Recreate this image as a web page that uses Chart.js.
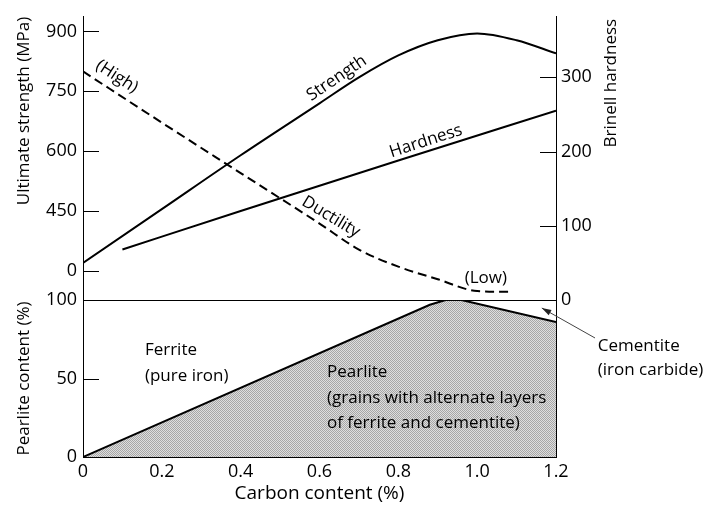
<!DOCTYPE html>
<html>
<head>
<meta charset="utf-8">
<script src="https://cdn.jsdelivr.net/npm/chart.js"></script>
<style>
body { margin: 0; background: #fff; }
#wrap { position: relative; width: 706px; height: 508px; }
#wrap canvas { position: absolute; left: 0; top: 0; }
</style>
</head>
<body>
<div id="wrap">
<canvas id="bottomChart" width="706" height="508"></canvas>
<canvas id="topChart" width="706" height="508"></canvas>
</div>
<script>
// Data
let xTicks = [0, 0.2, 0.4, 0.6, 0.8, 1.0, 1.2];
let xTickLabels = ["0", "0.2", "0.4", "0.6", "0.8", "1.0", "1.2"];

// strength axis is broken: "0" sits where 300 would be
let strengthTicks = [300, 450, 600, 750, 900];
let strengthTickLabels = ["0", "450", "600", "750", "900"];
let hardnessTicks = [0, 100, 200, 300];
let pearliteTicks = [0, 50, 100];

let strengthX = [0, 0.2, 0.4, 0.6, 0.7, 0.8, 0.9, 1.0, 1.1, 1.2];
let strengthY = [320, 455, 590, 720, 785, 840, 878, 895, 878, 845];

let hardnessX = [0.1, 0.4, 0.8, 1.2];
let hardnessY = [68, 120, 188, 255];

// ductility has no scale, drawn against the hardness axis
let ductilityX = [0, 0.2, 0.4, 0.6, 0.7, 0.8, 0.9, 1.0, 1.08];
let ductilityY = [308, 239, 171, 103, 68, 45, 28, 12, 11];

let pearliteX = [0, 0.88, 0.92, 0.96, 1.2];
let pearliteY = [0, 97, 100, 100, 86];

Chart.defaults.font.family = "'Open Sans', sans-serif";
Chart.defaults.color = "#000";

function pts(xs, ys) {
    return xs.map((x, i) => ({x: x, y: ys[i]}));
}

function setTicks(values) {
    return function(scale) {
        scale.ticks = values.map(v => ({value: v}));
    };
}

function drawText(ctx, text, x, y, angle, align) {
    ctx.save();
    ctx.translate(x, y);
    ctx.rotate(angle * Math.PI / 180);
    ctx.textAlign = align || "center";
    ctx.textBaseline = "middle";
    ctx.fillText(text, 0, 0);
    ctx.restore();
}

// tick marks point into the plot
const innerTicks = {
    id: "innerTicks",
    afterDraw(chart) {
        const ctx = chart.ctx;
        ctx.save();
        ctx.strokeStyle = "#000";
        ctx.lineWidth = 1;
        Object.values(chart.scales).forEach(s => {
            if (s.axis !== "y" || s.options.ticks.display === false) return;
            s.ticks.forEach((t, i) => {
                const y = Math.round(s.getPixelForTick(i)) + 0.5;
                const x0 = s.position === "left" ? s.right : s.left;
                const x1 = s.position === "left" ? x0 + 16 : x0 - 16;
                ctx.beginPath();
                ctx.moveTo(x0, y);
                ctx.lineTo(x1, y);
                ctx.stroke();
            });
        });
        ctx.restore();
    }
};

// stippled fill for the pearlite area
let pc = document.createElement("canvas");
pc.width = 2; pc.height = 2;
let pctx = pc.getContext("2d");
pctx.fillStyle = "#dedede"; pctx.fillRect(0, 0, 2, 2);
pctx.fillStyle = "#a6a6a6"; pctx.fillRect(0, 0, 1, 1); pctx.fillRect(1, 1, 1, 1);
let stipple = pctx.createPattern(pc, "repeat");

const topNotes = {
    id: "topNotes",
    afterDraw(chart) {
        const ctx = chart.ctx;
        const x = chart.scales.x, h = chart.scales.yH;
        ctx.save();
        ctx.fillStyle = "#000";
        ctx.font = "17px 'Open Sans'";
        drawText(ctx, "(High)", x.getPixelForValue(0.086), h.getPixelForValue(301), 33);
        drawText(ctx, "Strength", x.getPixelForValue(0.644), h.getPixelForValue(299), -34);
        drawText(ctx, "Hardness", x.getPixelForValue(0.87), h.getPixelForValue(214), -18);
        drawText(ctx, "Ductility", x.getPixelForValue(0.629), h.getPixelForValue(112), 31);
        drawText(ctx, "(Low)", x.getPixelForValue(1.022), h.getPixelForValue(29), 0);
        drawText(ctx, "Brinell hardness", h.left + 55, chart.chartArea.top + 2, -90, "right");
        ctx.restore();
    }
};

const bottomNotes = {
    id: "bottomNotes",
    afterDraw(chart) {
        const ctx = chart.ctx;
        const x = chart.scales.x, p = chart.scales.yP;
        ctx.save();
        ctx.fillStyle = "#000";
        ctx.font = "17px 'Open Sans'";
        drawText(ctx, "Ferrite", x.getPixelForValue(0.157), p.getPixelForValue(68), 0, "left");
        drawText(ctx, "(pure iron)", x.getPixelForValue(0.157), p.getPixelForValue(51.6), 0, "left");
        drawText(ctx, "Pearlite", x.getPixelForValue(0.619), p.getPixelForValue(54), 0, "left");
        drawText(ctx, "(grains with alternate layers", x.getPixelForValue(0.619), p.getPixelForValue(37.5), 0, "left");
        drawText(ctx, "of ferrite and cementite)", x.getPixelForValue(0.619), p.getPixelForValue(21.5), 0, "left");
        drawText(ctx, "Cementite", x.getPixelForValue(1.306), p.getPixelForValue(70.7), 0, "left");
        drawText(ctx, "(iron carbide)", x.getPixelForValue(1.306), p.getPixelForValue(55.4), 0, "left");
        // arrow to the cementite wedge
        const x0 = x.getPixelForValue(1.299), y0 = p.getPixelForValue(75.8);
        const x1 = x.getPixelForValue(1.164), y1 = p.getPixelForValue(94.9);
        const a = Math.atan2(y1 - y0, x1 - x0);
        ctx.strokeStyle = "#444";
        ctx.lineWidth = 1;
        ctx.beginPath();
        ctx.moveTo(x0, y0);
        ctx.lineTo(x1, y1);
        ctx.stroke();
        ctx.fillStyle = "#222";
        ctx.beginPath();
        ctx.moveTo(x1, y1);
        ctx.lineTo(x1 - 10 * Math.cos(a - 0.3), y1 - 10 * Math.sin(a - 0.3));
        ctx.lineTo(x1 - 10 * Math.cos(a + 0.3), y1 - 10 * Math.sin(a + 0.3));
        ctx.closePath();
        ctx.fill();
        ctx.restore();
    }
};

let line = {borderColor: "#000", borderWidth: 2, pointRadius: 0, fill: false, cubicInterpolationMode: "monotone"};

// Top panel: strength, hardness, ductility
new Chart(document.getElementById("topChart"), {
    type: "line",
    data: {
        datasets: [
            Object.assign({label: "Strength", data: pts(strengthX, strengthY), yAxisID: "yS"}, line),
            Object.assign({label: "Hardness", data: pts(hardnessX, hardnessY), yAxisID: "yH"}, line),
            Object.assign({label: "Ductility", data: pts(ductilityX, ductilityY), yAxisID: "yH", borderDash: [9, 5]}, line)
        ]
    },
    options: {
        responsive: false,
        animation: false,
        devicePixelRatio: 1,
        layout: {padding: {top: 10, bottom: 208, left: 0, right: 0}},
        plugins: {legend: {display: false}, tooltip: {enabled: false}},
        scales: {
            x: {type: "linear", min: 0, max: 1.2, display: false},
            yS: {
                position: "left", min: 227.4, max: 936.7,
                afterBuildTicks: setTicks(strengthTicks),
                afterFit: s => { s.width = 83; },
                grid: {display: false, drawTicks: false},
                border: {color: "#000", width: 1},
                ticks: {padding: 6, font: {size: 18}, callback: (v, i) => strengthTickLabels[i]},
                title: {display: true, text: "Ultimate strength (MPa)", align: "end", padding: {top: 14}, font: {size: 17}}
            },
            yH: {
                position: "right", min: 0, max: 381.6,
                afterBuildTicks: setTicks(hardnessTicks),
                afterFit: s => { s.width = 150; },
                grid: {display: false, drawTicks: false},
                border: {color: "#000", width: 1},
                ticks: {padding: 5, font: {size: 18}}
            }
        }
    },
    plugins: [innerTicks, topNotes]
});

// Bottom panel: pearlite content
new Chart(document.getElementById("bottomChart"), {
    type: "line",
    data: {
        datasets: [{
            label: "Pearlite",
            data: pts(pearliteX, pearliteY),
            yAxisID: "yP",
            borderColor: "#000",
            borderWidth: 2,
            pointRadius: 0,
            fill: "origin",
            backgroundColor: stipple
        }]
    },
    options: {
        responsive: false,
        animation: false,
        devicePixelRatio: 1,
        layout: {padding: {top: 300, bottom: 0, left: 0, right: 0}},
        plugins: {legend: {display: false}, tooltip: {enabled: false}},
        scales: {
            x: {
                type: "linear", min: 0, max: 1.2,
                afterBuildTicks: setTicks(xTicks),
                afterFit: s => { s.height = 51; },
                grid: {display: false, drawTicks: false},
                border: {color: "#000", width: 1},
                ticks: {padding: 4, maxRotation: 0, font: {size: 18}, callback: (v, i) => xTickLabels[i]},
                title: {display: true, text: "Carbon content (%)", padding: {bottom: 3}, font: {size: 19}}
            },
            yP: {
                position: "left", min: 0, max: 100,
                afterBuildTicks: setTicks(pearliteTicks),
                afterFit: s => { s.width = 83; },
                grid: {drawTicks: false, color: c => c.tick && c.tick.value === 100 ? "#000" : "rgba(0,0,0,0)"},
                border: {color: "#000", width: 1},
                ticks: {padding: 6, font: {size: 18}},
                title: {display: true, text: "Pearlite content (%)", padding: {top: 14}, font: {size: 17}}
            },
            yR: {
                position: "right", min: 0, max: 100,
                afterFit: s => { s.width = 150; },
                grid: {display: false, drawTicks: false},
                border: {color: "#000", width: 1},
                ticks: {display: false}
            }
        }
    },
    plugins: [innerTicks, bottomNotes]
});
</script>
</body>
</html>
